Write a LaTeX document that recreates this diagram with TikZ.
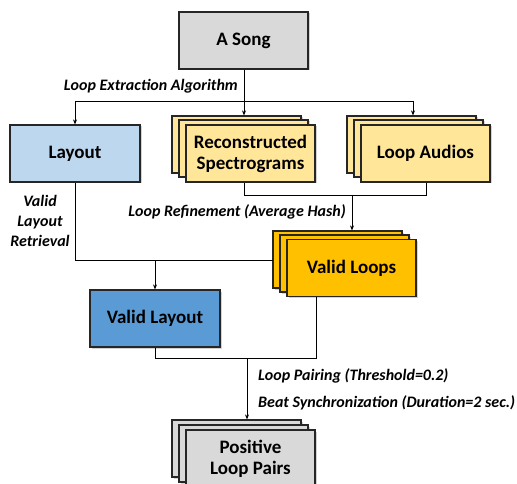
\documentclass[tikz,border=0pt]{standalone}
\usepackage{fontspec}
\setmainfont{Carlito}
\usetikzlibrary{shadows,arrows.meta}
\definecolor{cgray}{HTML}{D9D9D9}
\definecolor{clblue}{HTML}{BDD7EE}
\definecolor{cmblue}{HTML}{5B9BD5}
\definecolor{clyel}{HTML}{FFE699}
\definecolor{cgold}{HTML}{FFC000}
\definecolor{cline}{HTML}{262626}
\tikzset{
  card/.style={draw=cline, line width=1.2pt, minimum width=129pt, minimum height=57pt, inner sep=0pt,
    align=center, font=\fontsize{19}{21}\selectfont\bfseries,
    drop shadow={shadow xshift=1.5pt, shadow yshift=-1.5pt, opacity=0.35}},
  conn/.style={draw=black, line width=0.8pt},
  arr/.style={conn, -{Stealth[length=5pt,width=4pt]}},
  lab/.style={font=\fontsize{16}{20}\selectfont\bfseries\itshape, inner sep=0pt, align=center},
}
\begin{document}
\begin{tikzpicture}[x=1pt,y=-1pt]
\useasboundingbox (0,0) rectangle (517,484);
\clip (0,0) rectangle (517,484);
% A Song
\node[card, fill=cgray, minimum width=129pt] (song) at (243.5,40.5) {A Song};
% Layout
\node[card, fill=clblue, minimum width=130pt] (layout) at (75,153.5) {Layout};
% Reconstructed stack
\node[card, fill=clyel] (recB) at (236.5,144.5) {};
\node[card, fill=clyel] (recM) at (243.5,148.5) {};
\node[card, fill=clyel] (rec) at (250.5,153.5) {Reconstructed\\Spectrograms};
% Loop audios stack
\node[card, fill=clyel] (audB) at (411.5,144.5) {};
\node[card, fill=clyel] (audM) at (418.5,148.5) {};
\node[card, fill=clyel] (aud) at (425.5,153.5) {Loop Audios};
% Valid loops stack
\node[card, fill=cgold] (vlB) at (337.5,259.5) {};
\node[card, fill=cgold] (vlM) at (344.5,263.5) {};
\node[card, fill=cgold] (vl) at (351.5,268) {Valid Loops};
% Valid layout
\node[card, fill=cmblue, minimum width=130pt] (vlay) at (155,318.5) {Valid Layout};
% Positive stack
\node[card, fill=cgray] (posB) at (236.5,448.5) {};
\node[card, fill=cgray] (posM) at (243.5,453.5) {};
\node[card, fill=cgray] (pos) at (250.5,458.5) {Positive\\Loop Pairs};

% coordinates
\coordinate (j1) at (244,101);
\coordinate (j1l) at (75,101);
\coordinate (j1r) at (413,101);
\coordinate (j2l) at (244,195);
\coordinate (j2r) at (426,195);
\coordinate (j2) at (352,195);
\coordinate (j3) at (75,260);
\coordinate (j3r) at (273,260);
\coordinate (j3m) at (155,260);
\coordinate (j4l) at (155,358);
\coordinate (j4r) at (316,358);
\coordinate (j4) at (247,358);

% connectors
\draw[arr] (song.south -| j1) -- (recB.north -| j1);
\draw[conn] (j1l) -- (j1r);
\draw[arr] (j1l) -- (layout.north -| j1l);
\draw[arr] (j1r) -- (audB.north -| j1r);

\draw[conn] (rec.south -| j2l) -- (j2l) -- (j2r) -- (aud.south -| j2r);
\draw[arr] (j2) -- (vlB.north -| j2);

\draw[conn] (layout.south) -- (j3) -- (j3r);
\draw[arr] (j3m) -- (vlay.north);

\draw[conn] (vlay.south) -- (j4l) -- (j4r) -- (vl.south -| j4r);
\draw[arr] (j4) -- (posB.north -| j4);

% labels
\node[lab, anchor=east] (l1) at (238,86) {Loop Extraction Algorithm};
\node[lab, anchor=east] (l2) at (346,212) {Loop Refinement (Average Hash)};
\node[lab] (l3) at (40,221) {Valid\\Layout\\Retrieval};
\node[lab, anchor=west] (l4) at (258,376) {Loop Pairing (Threshold=0.2)};
\node[lab, anchor=west] (l5) at (258,403) {Beat Synchronization (Duration=2 sec.)};
\end{tikzpicture}
\end{document}
